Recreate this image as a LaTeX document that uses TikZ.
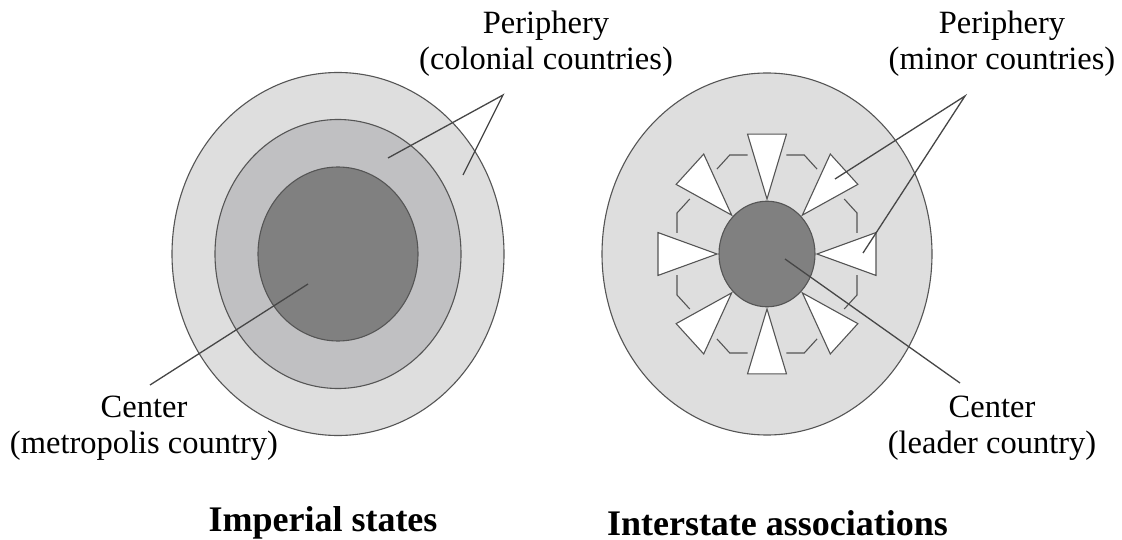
\documentclass[tikz,border=0pt]{standalone}
\usepackage{fontspec}
\setmainfont{Liberation Serif}
\definecolor{ringlight}{RGB}{222,222,222}
\definecolor{ringmid}{RGB}{192,192,194}
\definecolor{coredark}{RGB}{128,128,128}
\definecolor{rimgrey}{RGB}{85,85,85}
\definecolor{leadgrey}{RGB}{70,70,70}
\begin{document}
\begin{tikzpicture}[x=1pt,y=-1pt,
  ring/.style={draw=rimgrey, line width=1.1pt},
  leader/.style={draw=leadgrey, line width=1.3pt},
  lbl/.style={font=\fontsize{32.5}{36}\selectfont, align=center, inner sep=0pt, anchor=base},
  ttl/.style={font=\fontsize{36}{40}\selectfont\bfseries, inner sep=0pt, anchor=base},
  wedge/.style={draw=rimgrey, fill=white, line width=1.1pt, line join=miter},
  octo/.style={draw=rimgrey, line width=1.1pt}]
\useasboundingbox (0,0) rectangle (1122,540);
\fill[white] (0,0) rectangle (1122,540);

% Imperial states: three nested rings
\draw[ring, fill=ringlight] (338,254) ellipse [x radius=166, y radius=181.5];
\draw[ring, fill=ringmid]   (338,254) ellipse [x radius=123, y radius=134.5];
\draw[ring, fill=coredark]  (338,254) ellipse [x radius=80, y radius=87];

% Interstate associations: outer field, octagon, wedges, core
\draw[ring, fill=ringlight] (767,254) ellipse [x radius=165, y radius=181];
\begin{scope}[shift={(767,254)}, yscale=1.1]
  % corners of the octagon
  \foreach \a in {22.5,67.5,...,337.5} {
    \draw[octo] (\a:97.4) ++(\a-112.5:18) -- (\a:97.4) -- ++(\a+112.5:18);
  }
  % eight wedges pointing at the core
  \foreach \a in {0,45,...,315} {
    \draw[wedge] (\a:50) -- (\a+10.14:110.73) -- (\a-10.14:110.73) -- cycle;
  }
  \draw[ring, fill=coredark] (0,0) circle [radius=48];
\end{scope}

% leader end points
\coordinate (lcen)  at (308,284);
\coordinate (lcenE) at (150,385);
\coordinate (lper1) at (388,158);
\coordinate (lper2) at (463,175);
\coordinate (lapex) at (503,95);
\coordinate (rcen)  at (785,259);
\coordinate (rcenE) at (960,383);
\coordinate (rper1) at (835,179);
\coordinate (rper2) at (863,253);
\coordinate (rapex) at (965,96);

% labels (anchored at the baseline of their last line)
\node[lbl] (lperT) at (546,70)  {Periphery\\(colonial countries)};
\node[lbl] (rperT) at (1002,70) {Periphery\\(minor countries)};
\node[lbl] (lcenT) at (144,453) {Center\\(metropolis country)};
\node[lbl] (rcenT) at (992,453) {Center\\(leader country)};

\node[ttl] (ltitle) at (323,531.7) {Imperial states};
\node[ttl] (rtitle) at (777.5,535) {Interstate associations};

% leaders
\draw[leader] (lcen) -- (lcenE);
\draw[leader] (lper1) -- (lapex) -- (lper2);
\draw[leader] (rcen) -- (rcenE);
\draw[leader] (rper1) -- (rapex) -- (rper2);
\end{tikzpicture}
\end{document}
